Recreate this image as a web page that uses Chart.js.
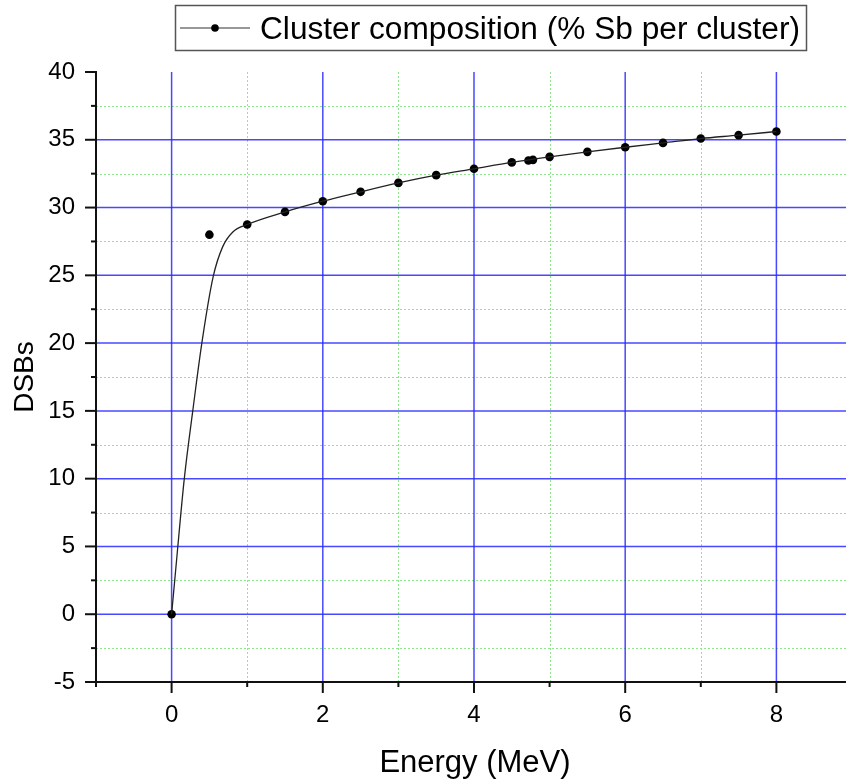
<!DOCTYPE html>
<html>
<head>
<meta charset="utf-8">
<script src="https://cdn.jsdelivr.net/npm/chart.js@4/dist/chart.umd.min.js"></script>
<style>
html,body{margin:0;padding:0;background:#fff;overflow:hidden;width:846px;height:782px;}
canvas{display:block;}
</style>
</head>
<body>
<canvas id="c" width="851" height="782"></canvas>
<script>
// Measured data points
const energy = [0, 0.5, 1, 1.5, 2, 2.5, 3, 3.5, 4, 4.5, 4.72, 4.78, 5, 5.5, 6, 6.5, 7, 7.5, 8];
const dsbs   = [0, 28.0, 28.75, 29.68, 30.47, 31.16, 31.82, 32.39, 32.86, 33.33, 33.47, 33.52, 33.74, 34.11, 34.45, 34.77, 35.09, 35.34, 35.61];
// Fitted curve
const fitEnergy = [0, 0.066, 0.168, 0.28, 0.4, 0.55, 0.675, 0.81, 1.0, 1.5, 2, 2.5, 3, 3.5, 4, 4.5, 5, 5.5, 6, 6.5, 7, 7.5, 8];
const fitDsbs   = [0, 4.0, 10.0, 15.0, 20.0, 24.9, 27.1, 28.2, 28.75, 29.68, 30.47, 31.16, 31.82, 32.39, 32.86, 33.33, 33.74, 34.11, 34.45, 34.77, 35.09, 35.34, 35.61];
// Axis ticks
const xMajorTicks = [0, 2, 4, 6, 8];
const xMinorTicks = [-1, 1, 3, 5, 7];
const yMajorTicks = [-5, 0, 5, 10, 15, 20, 25, 30, 35, 40];
const yMinorTicks = [-2.5, 2.5, 7.5, 12.5, 17.5, 22.5, 27.5, 32.5, 37.5];
const legendLabel = "Cluster composition (% Sb per cluster)";
const xTitle = "Energy (MeV)";
const yTitle = "DSBs";

const FONT = "'Liberation Sans', Arial, sans-serif";

const gridPlugin = {
  id: 'gridPlugin',
  beforeDatasetsDraw(chart) {
    const {ctx, chartArea: a, scales: {x, y}} = chart;
    ctx.save();
    ctx.beginPath(); ctx.rect(a.left + 1, a.top, a.right - a.left, a.bottom - a.top - 1); ctx.clip();
    ctx.strokeStyle = '#8fe88f'; ctx.lineWidth = 1; ctx.setLineDash([2, 2]);
    xMinorTicks.forEach(v => { if (v < 0) return; const p = Math.round(x.getPixelForValue(v)) + 0.5; ctx.beginPath(); ctx.moveTo(p, a.top); ctx.lineTo(p, a.bottom); ctx.stroke(); });
    yMinorTicks.forEach(v => { const p = Math.round(y.getPixelForValue(v)) + 0.5; ctx.beginPath(); ctx.moveTo(a.left, p); ctx.lineTo(a.right, p); ctx.stroke(); });
    ctx.setLineDash([]); ctx.strokeStyle = 'rgba(40,40,255,0.85)'; ctx.lineWidth = 1.5;
    xMajorTicks.forEach(v => { const p = x.getPixelForValue(v); ctx.beginPath(); ctx.moveTo(p, a.top); ctx.lineTo(p, a.bottom); ctx.stroke(); });
    yMajorTicks.forEach(v => { if (v >= 40 || v <= -5) return; const p = y.getPixelForValue(v); ctx.beginPath(); ctx.moveTo(a.left, p); ctx.lineTo(a.right, p); ctx.stroke(); });
    ctx.restore();
  },
  afterDraw(chart) {
    const {ctx, chartArea: a, scales: {x, y}} = chart;
    ctx.save();
    ctx.strokeStyle = '#111'; ctx.lineWidth = 2;
    yMajorTicks.forEach(v => { const p = y.getPixelForValue(v); ctx.beginPath(); ctx.moveTo(a.left - 11, p); ctx.lineTo(a.left, p); ctx.stroke(); });
    yMinorTicks.forEach(v => { const p = y.getPixelForValue(v); ctx.beginPath(); ctx.moveTo(a.left - 5, p); ctx.lineTo(a.left, p); ctx.stroke(); });
    xMajorTicks.forEach(v => { const p = x.getPixelForValue(v); ctx.beginPath(); ctx.moveTo(p, a.bottom); ctx.lineTo(p, a.bottom + 11); ctx.stroke(); });
    xMinorTicks.forEach(v => { const p = x.getPixelForValue(v); ctx.beginPath(); ctx.moveTo(p, a.bottom); ctx.lineTo(p, a.bottom + 5); ctx.stroke(); });
    ctx.fillStyle = '#000';
    ctx.font = '31px ' + FONT; ctx.textAlign = 'center'; ctx.textBaseline = 'alphabetic';
    ctx.fillText(xTitle, 475, 772);
    ctx.save(); ctx.translate(33, 377); ctx.rotate(-Math.PI / 2);
    ctx.font = '28px ' + FONT; ctx.fillText(yTitle, 0, 0); ctx.restore();
    // legend
    ctx.strokeStyle = '#555'; ctx.lineWidth = 1.5;
    ctx.strokeRect(175.5, 5.5, 631, 45);
    ctx.strokeStyle = '#333'; ctx.lineWidth = 1.2;
    ctx.beginPath(); ctx.moveTo(180, 28); ctx.lineTo(250, 28); ctx.stroke();
    ctx.fillStyle = '#000'; ctx.beginPath(); ctx.arc(215, 28, 3.8, 0, Math.PI * 2); ctx.fill();
    ctx.font = '31px ' + FONT; ctx.textAlign = 'left';
    const w = ctx.measureText(legendLabel).width;
    const target = 540;
    ctx.save(); ctx.translate(260, 39); ctx.scale(target / w, 1);
    ctx.fillText(legendLabel, 0, 0); ctx.restore();
    ctx.restore();
  }
};

new Chart(document.getElementById('c'), {
  type: 'scatter',
  data: {
    datasets: [
      {
        label: 'fit',
        data: fitEnergy.map((e, i) => ({x: e, y: fitDsbs[i]})),
        showLine: true, borderColor: '#222', borderWidth: 1.3, pointRadius: 0,
        cubicInterpolationMode: 'monotone', fill: false
      },
      {
        label: legendLabel,
        data: energy.map((e, i) => ({x: e, y: dsbs[i]})),
        showLine: false, pointRadius: 4.3, pointBackgroundColor: '#000', pointBorderColor: '#000', pointBorderWidth: 0
      }
    ]
  },
  options: {
    responsive: false, animation: false, devicePixelRatio: 1,
    layout: {padding: {top: 72, left: 0, right: 0, bottom: 0}},
    plugins: {legend: {display: false}, tooltip: {enabled: false}},
    scales: {
      x: {
        type: 'linear', min: -1, max: 8.93,
        afterFit(s) { s.height = 100; s.paddingLeft = 0; s.paddingRight = 0; },
        grid: {display: false, drawTicks: false},
        border: {display: true, color: '#111', width: 2},
        ticks: {
          stepSize: 1, padding: 19, color: '#000', font: {family: FONT, size: 24},
          maxRotation: 0, autoSkip: false, includeBounds: false,
          callback: v => xMajorTicks.includes(v) ? String(v) : ''
        }
      },
      y: {
        type: 'linear', min: -5, max: 40,
        afterFit(s) { s.width = 96; s.paddingTop = 0; s.paddingBottom = 0; },
        grid: {display: false, drawTicks: false},
        border: {display: true, color: '#111', width: 2},
        ticks: {
          stepSize: 2.5, padding: 21, color: '#000', font: {family: FONT, size: 24},
          autoSkip: false,
          callback: v => yMajorTicks.includes(v) ? String(v) : ''
        }
      }
    }
  },
  plugins: [gridPlugin]
});
</script>
</body>
</html>
